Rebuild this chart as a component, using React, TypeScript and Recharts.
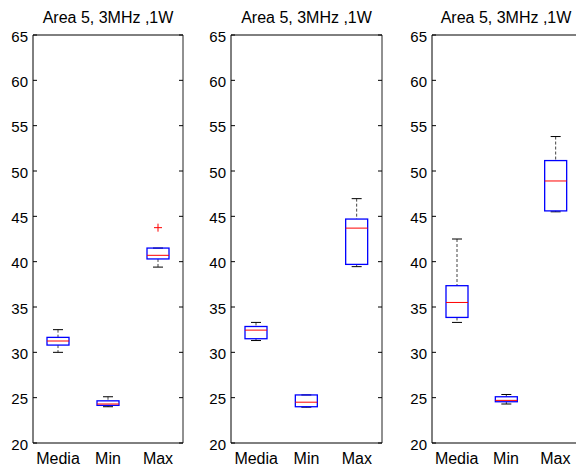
import { ComposedChart, Bar, XAxis, YAxis, ReferenceLine } from 'recharts';

const categories = ['Media', 'Min', 'Max'];
const yTicks = [20, 25, 30, 35, 40, 45, 50, 55, 60, 65];
const title = 'Area 5, 3MHz ,1W';

// panel 1
const p1Low = [30.0, 24.0, 39.4];
const p1Q1 = [30.8, 24.15, 40.3];
const p1Median = [31.25, 24.3, 40.7];
const p1Q3 = [31.65, 24.65, 41.5];
const p1High = [32.5, 25.1, 41.5];
const p1Outliers = [[], [], [43.75]];

// panel 2
const p2Low = [31.3, 23.95, 39.45];
const p2Q1 = [31.5, 24.0, 39.7];
const p2Median = [32.45, 24.5, 43.7];
const p2Q3 = [32.85, 25.3, 44.7];
const p2High = [33.3, 25.3, 46.95];
const p2Outliers = [[], [], []];

// panel 3
const p3Low = [33.3, 24.3, 45.5];
const p3Q1 = [33.85, 24.55, 45.6];
const p3Median = [35.5, 24.7, 48.9];
const p3Q3 = [37.35, 25.1, 51.15];
const p3High = [42.5, 25.35, 53.8];
const p3Outliers = [[], [], []];

const FONT = '"Liberation Sans", Arial, sans-serif';

const buildData = (
  low: number[],
  q1: number[],
  median: number[],
  q3: number[],
  high: number[],
  outliers: number[][]
) =>
  categories.map((name, i) => ({
    name,
    low: low[i],
    q1: q1[i],
    median: median[i],
    q3: q3[i],
    high: high[i],
    outliers: outliers[i],
  }));

const panels = [
  { left: 0, plotWidth: 150, data: buildData(p1Low, p1Q1, p1Median, p1Q3, p1High, p1Outliers) },
  { left: 198, plotWidth: 151, data: buildData(p2Low, p2Q1, p2Median, p2Q3, p2High, p2Outliers) },
  { left: 399, plotWidth: 148, data: buildData(p3Low, p3Q1, p3Median, p3Q3, p3High, p3Outliers) },
];

const BoxShape = (props: any) => {
  const { x, y, width, height, payload } = props;
  if (!payload) return null;
  const { low, q1, median, q3, high, outliers } = payload;
  const px = (v: number) => y + ((high - v) * height) / (high - low);
  const cx = x + width / 2;
  return (
    <g>
      <line x1={cx} x2={cx} y1={px(high)} y2={px(q3)} stroke="#444" strokeDasharray="3 2" />
      <line x1={cx} x2={cx} y1={px(q1)} y2={px(low)} stroke="#444" strokeDasharray="3 2" />
      <line x1={cx - 5} x2={cx + 5} y1={px(high)} y2={px(high)} stroke="#000" />
      <line x1={cx - 5} x2={cx + 5} y1={px(low)} y2={px(low)} stroke="#000" />
      <rect x={x} y={px(q3)} width={width} height={px(q1) - px(q3)} fill="none" stroke="#0000ff" strokeWidth={1.3} />
      <line x1={x} x2={x + width} y1={px(median)} y2={px(median)} stroke="#ff0000" />
      {outliers.map((o: number, i: number) => (
        <g key={i}>
          <line x1={cx - 4} x2={cx + 4} y1={px(o)} y2={px(o)} stroke="#ff0000" />
          <line x1={cx} x2={cx} y1={px(o) - 4} y2={px(o) + 4} stroke="#ff0000" />
        </g>
      ))}
    </g>
  );
};

const LeftTick = (props: any) => {
  const { x, y, payload } = props;
  return (
    <g>
      <line x1={x} x2={x + 4} y1={y} y2={y} stroke="#000" />
      <text x={x - 5} y={y + 1} textAnchor="end" dominantBaseline="central" fontSize={15} fontFamily={FONT} fill="#000">
        {payload.value}
      </text>
    </g>
  );
};

const RightTick = (props: any) => {
  const { x, y } = props;
  return <line x1={x} x2={x - 4} y1={y} y2={y} stroke="#000" />;
};

const BottomTick = (props: any) => {
  const { x, y, payload } = props;
  return (
    <text x={x} y={y + 21} textAnchor="middle" fontSize={16} fontFamily={FONT} fill="#000">
      {payload.value}
    </text>
  );
};

export default function App() {
  return (
    <div style={{ position: 'fixed', left: 0, top: 0, width: 576, height: 466, overflow: 'hidden', background: '#fff' }}>
      {panels.map((p, idx) => (
        <div key={idx} style={{ position: 'absolute', left: p.left, top: 0, width: 33 + p.plotWidth + 17, height: 466 }}>
          <div
            style={{
              position: 'absolute',
              left: 33,
              top: 8,
              width: p.plotWidth,
              textAlign: 'center',
              fontFamily: FONT,
              fontSize: 16,
              lineHeight: '20px',
              whiteSpace: 'nowrap',
              color: '#000',
            }}
          >
            {title}
          </div>
          <ComposedChart
            width={33 + p.plotWidth + 17}
            height={466}
            data={p.data}
            margin={{ top: 35, right: 12, bottom: 0, left: 0 }}
          >
            <XAxis
              dataKey="name"
              height={23}
              tickSize={0}
              tickMargin={0}
              interval={0}
              tick={<BottomTick />}
              axisLine={{ stroke: '#000' }}
            />
            <YAxis
              domain={[20, 65]}
              ticks={yTicks}
              width={33}
              tickSize={0}
              tickMargin={0}
              interval={0}
              tick={<LeftTick />}
              axisLine={{ stroke: '#000' }}
              allowDataOverflow
            />
            <YAxis
              yAxisId="right"
              orientation="right"
              domain={[20, 65]}
              ticks={yTicks}
              width={5}
              tickSize={0}
              tickMargin={0}
              interval={0}
              tick={<RightTick />}
              axisLine={{ stroke: '#222' }}
              allowDataOverflow
            />
            <ReferenceLine y={65} stroke="#000" />
            <Bar
              dataKey={(d: any) => [d.low, d.high]}
              barSize={22}
              shape={<BoxShape />}
              isAnimationActive={false}
            />
          </ComposedChart>
        </div>
      ))}
    </div>
  );
}
